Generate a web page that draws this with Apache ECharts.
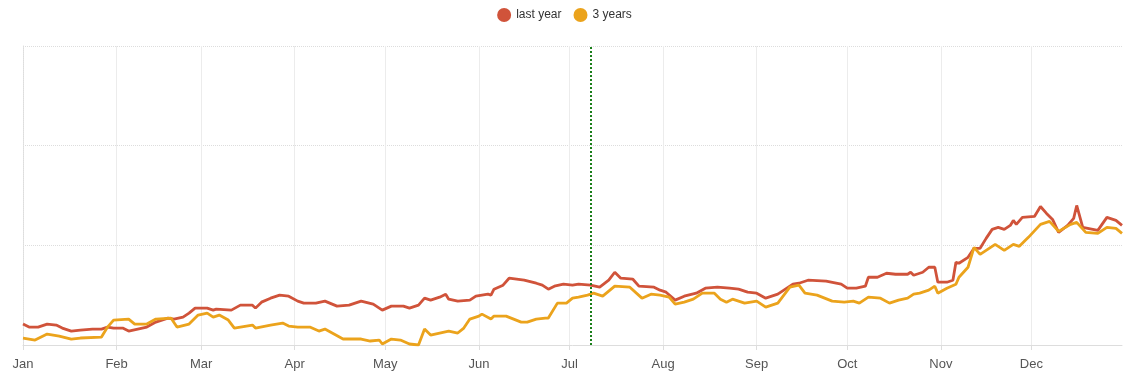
<!DOCTYPE html>
<html>
<head>
<meta charset="utf-8">
<script src="https://cdn.jsdelivr.net/npm/echarts@6/dist/echarts.min.js"></script>
<style>
html,body{margin:0;padding:0;background:#fff;}
#chart{width:1129px;height:380px;}
</style>
</head>
<body>
<div id="chart"></div>
<script>
// Day of year (0 = Jan 1 2023) and values
const monthLabels = ['Jan','Feb','Mar','Apr','May','Jun','Jul','Aug','Sep','Oct','Nov','Dec'];
const seriesNames = ['last year', '3 years'];
const markerDay = 188;

const lastYearDays = [0,2,5,8,11,13,16,19,23,26,28,30,33,35,38,41,44,48,50,53,55,57,61,63,64,69,72,76,77,79,82,85,88,91,93,97,100,104,108,112,116,119,122,126,128,131,133,135,138,140,141,144,148,150,154,155,156,159,161,166,170,172,174,176,179,182,184,188,191,194,196,198,202,204,209,211,213,216,219,223,226,230,234,237,240,243,246,250,252,255,257,260,266,271,273,276,279,280,283,286,289,293,294,295,298,300,302,303,306,308,309,310,313,315,317,319,321,323,325,327,328,329,331,335,337,339,341,343,346,348,349,351,356,359,362,364];
const lastYearValues = [21,18,18,21,20,17,14,15,16,16,18,17,17,14,16,18,23,27,26,28,32,37,37,35,36,35,40,40,37,43,47,50,49,44,42,42,44,39,40,44,41,35,39,39,37,40,47,45,48,51,46,44,45,49,51,50,56,60,67,65,62,60,56,59,61,60,61,60,58,65,73,67,66,59,58,55,53,45,49,52,57,58,57,56,53,52,47,51,55,61,62,65,64,61,57,57,59,68,68,72,71,71,73,70,73,78,78,63,63,65,83,82,88,97,97,107,116,118,116,120,125,121,128,129,139,132,126,113,120,127,140,118,115,128,125,120];

const threeYearDays = [0,4,8,12,16,19,26,28,30,35,37,41,44,49,51,55,58,61,63,65,68,70,76,77,82,86,88,91,95,98,100,103,106,112,115,118,119,122,125,128,131,133,135,138,141,144,146,148,151,152,155,156,160,165,167,170,173,174,177,180,182,184,187,189,192,196,201,205,208,211,214,216,219,222,225,229,231,233,235,239,243,246,250,254,257,259,263,268,272,275,277,280,284,287,290,293,295,297,300,302,303,306,309,310,313,315,317,319,322,325,328,330,333,337,340,343,347,349,352,356,359,362,364];
const threeYearValues = [7,5,11,9,6,7,8,18,25,26,21,21,26,27,18,21,30,32,28,30,25,17,20,17,20,22,19,18,18,14,16,11,6,6,4,5,1,6,5,1,0,16,10,12,14,12,17,26,29,31,26,29,29,23,23,26,27,27,42,42,47,48,50,52,49,59,58,47,51,50,48,41,43,46,52,52,46,43,46,42,44,38,42,58,60,52,50,44,43,44,42,48,47,42,45,47,51,52,55,59,52,57,61,68,78,98,91,95,101,95,101,99,108,121,124,114,121,123,113,112,118,117,112];

function dayToTime(d){ return new Date(2023, 0, 1 + d).getTime(); }
function pairs(days, vals){ return days.map((d,i)=>[dayToTime(d), vals[i]]); }

const chart = echarts.init(document.getElementById('chart'));
chart.setOption({
  animation: false,
  color: ['#d0533a', '#eba31c'],
  legend: {
    top: 3, left: 'center',
    icon: 'circle', itemWidth: 14, itemHeight: 14, itemGap: 12,
    textStyle: { fontSize: 12, color: '#333', fontFamily: 'Liberation Sans, Arial, sans-serif' },
    data: seriesNames
  },
  grid: { left: 23, right: 7, top: 46, bottom: 35, containLabel: false },
  xAxis: {
    type: 'time',
    min: dayToTime(0), max: dayToTime(364),
    splitNumber: 12,
    axisLine: { lineStyle: { color: '#ddd' } },
    axisTick: { show: true, lineStyle: { color: '#ddd' } },
    splitLine: { show: true, showMaxLine: false, lineStyle: { color: '#ececec', type: 'solid' } },
    axisLabel: {
      color: '#555', fontSize: 13, margin: 13,
      fontFamily: 'Liberation Sans, Arial, sans-serif',
      formatter: function(v){ return monthLabels[new Date(v).getMonth()]; }
    }
  },
  yAxis: {
    type: 'value', min: 0, max: 300, interval: 100,
    axisLabel: { show: false },
    axisTick: { show: false },
    axisLine: { show: true, lineStyle: { color: '#ddd', type: 'dotted' } },
    splitLine: { show: true, lineStyle: { color: '#ddd', type: 'dotted' } }
  },
  series: [
    {
      name: seriesNames[0], type: 'line', showSymbol: false, smooth: false,
      lineStyle: { width: 2.8 },
      data: pairs(lastYearDays, lastYearValues),
      markLine: {
        silent: true, symbol: 'none', label: { show: false },
        lineStyle: { color: '#1a7f1a', type: 'dotted', width: 2 },
        data: [{ xAxis: dayToTime(markerDay) }]
      }
    },
    {
      name: seriesNames[1], type: 'line', showSymbol: false, smooth: false,
      lineStyle: { width: 2.8 },
      data: pairs(threeYearDays, threeYearValues)
    }
  ]
});
</script>
</body>
</html>
